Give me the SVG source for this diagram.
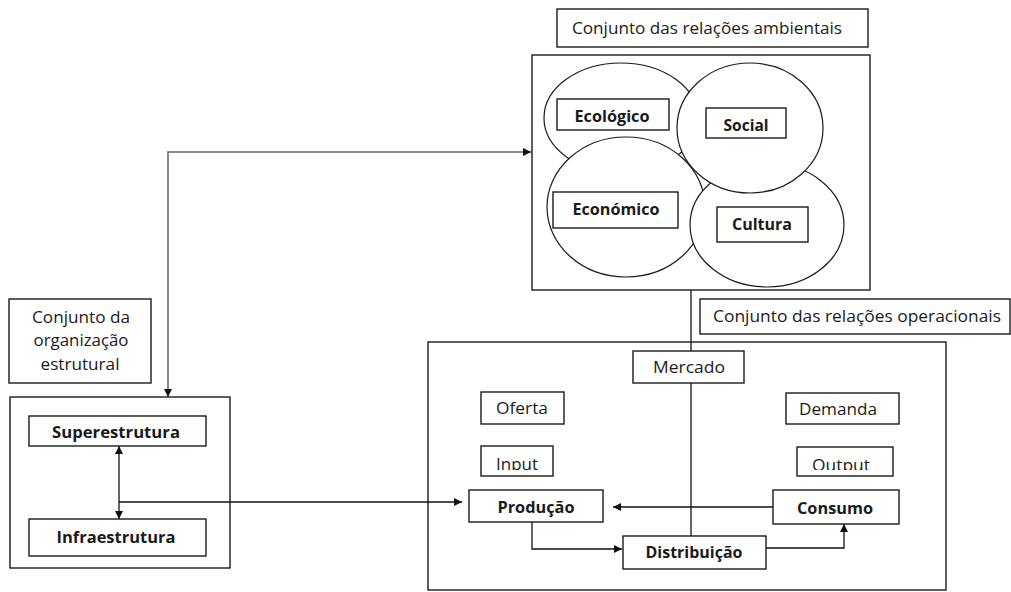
<svg xmlns="http://www.w3.org/2000/svg" width="1011" height="592" viewBox="0 0 1011 592">
<style>
.box{fill:#fff;stroke:#1a1a1a;stroke-width:1.4}
.ell{fill:#fff;stroke:#1a1a1a;stroke-width:1.2}
.t{font-family:"Open Sans","Liberation Sans",sans-serif;font-size:15.5px;fill:#1a1a1a;text-anchor:middle}
.b{font-weight:bold;font-size:16px}
.ln{fill:none;stroke:#111;stroke-width:1.3}
.gl{fill:none;stroke:#666;stroke-width:1.6}
</style>
<defs>
<marker id="ah" viewBox="0 0 10 10" refX="10" refY="5" markerWidth="9" markerHeight="8" markerUnits="userSpaceOnUse" orient="auto-start-reverse">
<path d="M0,0 L10,5 L0,10 z" fill="#111"/>
</marker>
<clipPath id="cin"><rect x="481" y="446" width="72" height="24"/></clipPath>
<clipPath id="cout"><rect x="797" y="447" width="96" height="23"/></clipPath>
</defs>

<g id="connectors">
<polyline class="gl" points="168,397 168,152 531,152" marker-start="url(#ah)" marker-end="url(#ah)"/>
<line class="ln" x1="691" y1="290" x2="691" y2="536"/>
<line class="ln" x1="119" y1="446" x2="119" y2="519" marker-start="url(#ah)" marker-end="url(#ah)"/>
<polyline class="ln" points="119,502 462,502" marker-end="url(#ah)"/>
<polyline class="ln" points="773,507 613,507" marker-end="url(#ah)"/>
<polyline class="ln" points="532,522 532,549 622,549" marker-end="url(#ah)"/>
<polyline class="ln" points="766,548 844,548 844,524" marker-end="url(#ah)"/>
</g>

<g id="label-ambientais">
<rect class="box" x="557" y="9" width="311" height="38"/>
<text class="t" x="707" y="34" textLength="270" lengthAdjust="spacingAndGlyphs">Conjunto das relações ambientais</text>
</g>

<g id="ambientais">
<rect class="box" x="532" y="55" width="338" height="235"/>
<g id="ecologico">
<ellipse class="ell" cx="621" cy="118" rx="77" ry="55"/>
</g>
<g id="economico">
<ellipse class="ell" cx="626" cy="207" rx="79" ry="70"/>
</g>
<g id="cultura">
<ellipse class="ell" cx="767" cy="225" rx="77" ry="62"/>
</g>
<g id="social">
<ellipse class="ell" cx="750" cy="128" rx="73" ry="65"/>
</g>
<g id="ecologico-label">
<rect class="box" x="557" y="99" width="112" height="31"/>
<text class="t b" x="612" y="122" textLength="75" lengthAdjust="spacingAndGlyphs">Ecológico</text>
</g>
<g id="social-label">
<rect class="box" x="706" y="108" width="80" height="30"/>
<text class="t b" x="746" y="131" textLength="45" lengthAdjust="spacingAndGlyphs">Social</text>
</g>
<g id="economico-label">
<rect class="box" x="553" y="192" width="125" height="36"/>
<text class="t b" x="616" y="215" textLength="87" lengthAdjust="spacingAndGlyphs">Económico</text>
</g>
<g id="cultura-label">
<rect class="box" x="717" y="207" width="91" height="35"/>
<text class="t b" x="762" y="230" textLength="60" lengthAdjust="spacingAndGlyphs">Cultura</text>
</g>
</g>

<g id="label-operacionais">
<rect class="box" x="700" y="299" width="310" height="35"/>
<text class="t" x="857" y="322" textLength="288" lengthAdjust="spacingAndGlyphs">Conjunto das relações operacionais</text>
</g>

<g id="label-estrutural">
<rect class="box" x="9" y="299" width="142" height="84"/>
<text class="t" x="81" y="323" textLength="98" lengthAdjust="spacingAndGlyphs">Conjunto da</text>
<text class="t" x="81" y="346" textLength="95" lengthAdjust="spacingAndGlyphs">organização</text>
<text class="t" x="80" y="370" textLength="79" lengthAdjust="spacingAndGlyphs">estrutural</text>
</g>

<g id="estrutural">
<rect class="box" x="10" y="397" width="220" height="171" style="fill:none"/>
</g>
<g id="superestrutura">
<rect class="box" x="29" y="416" width="177" height="30"/>
<text class="t b" x="116" y="438" textLength="128" lengthAdjust="spacingAndGlyphs">Superestrutura</text>
</g>
<g id="infraestrutura">
<rect class="box" x="29" y="519" width="177" height="37"/>
<text class="t b" x="116" y="543" textLength="119" lengthAdjust="spacingAndGlyphs">Infraestrutura</text>
</g>

<g id="operacionais">
<rect class="box" x="428" y="342" width="518" height="248" style="fill:none"/>
</g>
<g id="mercado">
<rect class="box" x="633" y="351" width="111" height="32"/>
<text class="t" x="689" y="373" textLength="72" lengthAdjust="spacingAndGlyphs">Mercado</text>
</g>
<g id="oferta">
<rect class="box" x="481" y="392" width="83" height="32"/>
<text class="t" x="522" y="414" textLength="52" lengthAdjust="spacingAndGlyphs">Oferta</text>
</g>
<g id="input">
<rect class="box" x="481" y="446" width="72" height="30"/>
<text class="t" x="517" y="470" textLength="42" lengthAdjust="spacingAndGlyphs" clip-path="url(#cin)">Input</text>
</g>
<g id="producao">
<rect class="box" x="469" y="490" width="134" height="32"/>
<text class="t b" x="536" y="513" textLength="77" lengthAdjust="spacingAndGlyphs">Produção</text>
</g>
<g id="distribuicao">
<rect class="box" x="623" y="536" width="143" height="33"/>
<text class="t b" x="694" y="558" textLength="97" lengthAdjust="spacingAndGlyphs">Distribuição</text>
</g>
<g id="demanda">
<rect class="box" x="786" y="393" width="113" height="31"/>
<text class="t" x="838" y="415" textLength="78" lengthAdjust="spacingAndGlyphs">Demanda</text>
</g>
<g id="output">
<rect class="box" x="797" y="447" width="96" height="29"/>
<text class="t" x="841" y="471" textLength="58" lengthAdjust="spacingAndGlyphs" clip-path="url(#cout)">Output</text>
</g>
<g id="consumo">
<rect class="box" x="773" y="490" width="126" height="34"/>
<text class="t b" x="835" y="514" textLength="76" lengthAdjust="spacingAndGlyphs">Consumo</text>
</g>
</svg>
